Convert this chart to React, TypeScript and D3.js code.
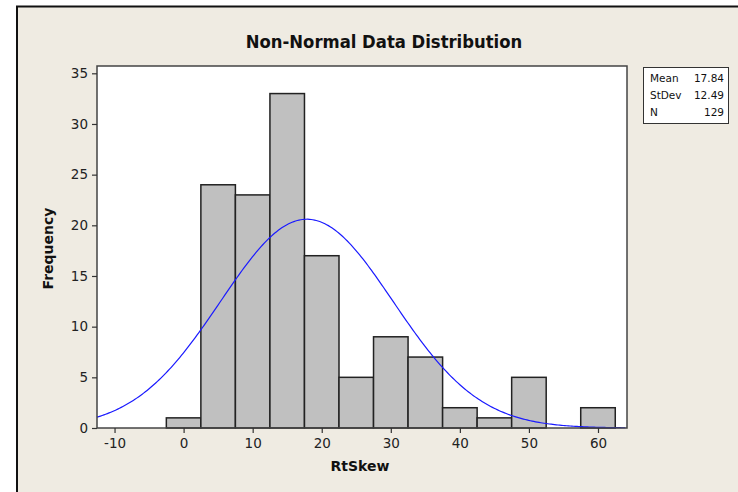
import React, { useEffect, useRef } from "react";
import * as d3 from "d3";

// histogram bins (lower edge of each bin, width 5) and counts
const binStarts = [-2.5, 2.5, 7.5, 12.5, 17.5, 22.5, 27.5, 32.5, 37.5, 42.5, 47.5, 52.5, 57.5];
const counts = [1, 24, 23, 33, 17, 5, 9, 7, 2, 1, 5, 0, 2];
const binWidth = 5;
const xTicks = [-10, 0, 10, 20, 30, 40, 50, 60];
const yTicks = [0, 5, 10, 15, 20, 25, 30, 35];
const statLabels = ["Mean", "StDev", "N"];
const statValues = ["17.84", "12.49", "129"];
const mean = 17.84;
const stdev = 12.49;
const n = 129;

const W = 738;
const H = 492;

const App = () => {
  const ref = useRef<SVGSVGElement>(null);

  useEffect(() => {
    const svg = d3.select(ref.current);
    svg.selectAll("*").remove();

    const left = 97, right = 627, top = 66, bottom = 428;
    const x = d3.scaleLinear().domain([-12.54, 64.2]).range([left, right]);
    const y = d3.scaleLinear().domain([0, 35]).range([bottom, 73.3]);

    // background + frame
    svg.append("rect").attr("width", W).attr("height", H).attr("fill", "#fff");
    svg.append("rect").attr("x", 17).attr("y", 6).attr("width", W - 17).attr("height", H - 6).attr("fill", "#efebe2");
    svg.append("path").attr("d", `M17,${H} V6.5 H${W}`).attr("fill", "none").attr("stroke", "#111").attr("stroke-width", 2);

    // title
    svg.append("text")
      .attr("x", 384).attr("y", 48)
      .attr("text-anchor", "middle")
      .attr("font-family", "DejaVu Sans Condensed, DejaVu Sans")
      .attr("font-weight", "bold")
      .attr("font-size", 18.3)
      .attr("fill", "#111")
      .text("Non-Normal Data Distribution");

    // plot area
    svg.append("rect")
      .attr("x", left).attr("y", top)
      .attr("width", right - left).attr("height", bottom - top)
      .attr("fill", "#fff");

    // bars
    svg.selectAll("rect.bar")
      .data(counts.map((c, i) => ({ x0: binStarts[i], c })).filter(d => d.c > 0))
      .enter()
      .append("rect")
      .attr("class", "bar")
      .attr("x", d => x(d.x0))
      .attr("y", d => y(d.c))
      .attr("width", d => x(d.x0 + binWidth) - x(d.x0))
      .attr("height", d => y(0) - y(d.c))
      .attr("fill", "#c0c0c0")
      .attr("stroke", "#222")
      .attr("stroke-width", 1.5);

    // fitted normal curve
    const scale = n * binWidth;
    const pts = d3.range(-12.54, 64.21, 0.25).map(v => [
      v,
      (scale / (stdev * Math.sqrt(2 * Math.PI))) * Math.exp(-0.5 * ((v - mean) / stdev) ** 2),
    ]);
    const line = d3.line<number[]>().x(d => x(d[0])).y(d => y(d[1]));
    svg.append("path")
      .attr("d", line(pts))
      .attr("fill", "none")
      .attr("stroke", "#1a1aff")
      .attr("stroke-width", 1.2);

    // plot border
    svg.append("rect")
      .attr("x", left).attr("y", top)
      .attr("width", right - left).attr("height", bottom - top)
      .attr("fill", "none")
      .attr("stroke", "#444")
      .attr("stroke-width", 1.5);

    const font = "DejaVu Sans, Tahoma, sans-serif";

    // y axis
    const ya = svg.append("g")
      .attr("transform", `translate(${left},0)`)
      .call(d3.axisLeft(y).tickValues(yTicks).tickSize(5).tickPadding(4).tickFormat(d => String(d)));
    ya.select(".domain").remove();
    ya.selectAll("line").attr("stroke", "#333").attr("stroke-width", 1.2);
    ya.selectAll("text").attr("font-family", font).attr("font-size", 13.5).attr("fill", "#222");

    // x axis
    const xa = svg.append("g")
      .attr("transform", `translate(0,${bottom})`)
      .call(d3.axisBottom(x).tickValues(xTicks).tickSize(5).tickPadding(5).tickFormat(d => String(d)));
    xa.select(".domain").remove();
    xa.selectAll("line").attr("stroke", "#333").attr("stroke-width", 1.2);
    xa.selectAll("text").attr("font-family", font).attr("font-size", 13.5).attr("fill", "#222");

    // axis labels
    svg.append("text")
      .attr("x", 360).attr("y", 471)
      .attr("text-anchor", "middle")
      .attr("font-family", font).attr("font-weight", "bold").attr("font-size", 14)
      .attr("fill", "#111")
      .text("RtSkew");
    svg.append("text")
      .attr("transform", "translate(53,248.5) rotate(-90)")
      .attr("text-anchor", "middle")
      .attr("font-family", font).attr("font-weight", "bold").attr("font-size", 14)
      .attr("fill", "#111")
      .text("Frequency");

    // stats box
    svg.append("rect")
      .attr("x", 643.5).attr("y", 67.5).attr("width", 85).attr("height", 56)
      .attr("fill", "#fff").attr("stroke", "#333").attr("stroke-width", 1);
    statLabels.forEach((s, i) => {
      svg.append("text")
        .attr("x", 650).attr("y", 82 + i * 17)
        .attr("font-family", font).attr("font-size", 10.5).attr("fill", "#111")
        .text(s);
      svg.append("text")
        .attr("x", 724).attr("y", 82 + i * 17)
        .attr("text-anchor", "end")
        .attr("font-family", font).attr("font-size", 10.5).attr("fill", "#111")
        .text(statValues[i]);
    });
  }, []);

  return (
    <div style={{ position: "absolute", left: 0, top: 0 }}>
      <svg ref={ref} width={W} height={H} style={{ display: "block" }} />
    </div>
  );
};

export default App;
